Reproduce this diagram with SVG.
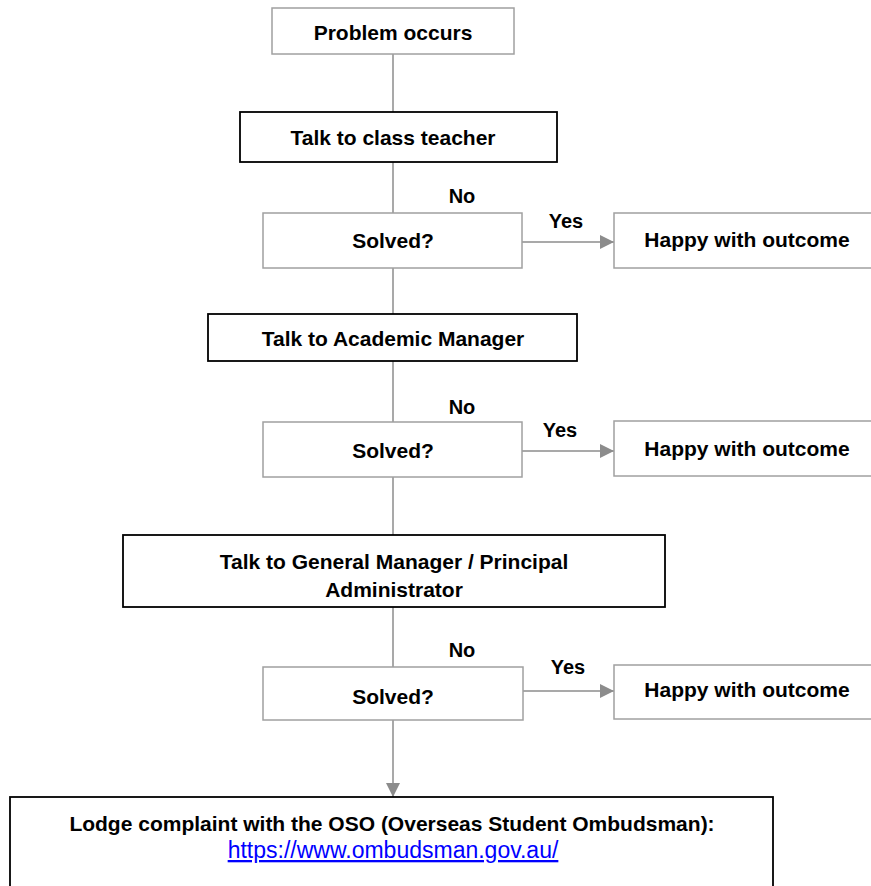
<svg xmlns="http://www.w3.org/2000/svg" width="871" height="886" viewBox="0 0 871 886">
<style>
.gray{fill:#fff;stroke:#a0a0a0;stroke-width:1.5}
.blk{fill:#fff;stroke:#000;stroke-width:1.8}
.t{font-family:"Liberation Sans",Arial,sans-serif;font-weight:bold;font-size:21px;fill:#000;text-anchor:middle}
.lbl{font-family:"Liberation Sans",Arial,sans-serif;font-weight:bold;font-size:20px;fill:#000;text-anchor:middle}
.link{font-family:"Liberation Sans",Arial,sans-serif;font-size:23px;fill:#0000ff;text-anchor:middle;text-decoration:underline}
.c{stroke:#8c8c8c;stroke-width:1.5;fill:none}
</style>
<defs>
<marker id="ah2" viewBox="0 0 10 10" refX="10" refY="5" markerWidth="14" markerHeight="14" markerUnits="userSpaceOnUse" orient="auto">
<path d="M0,0 L10,5 L0,10 z" fill="#8c8c8c"/>
</marker>
</defs>
<g id="connectors">
<line class="c" x1="393" y1="54" x2="393" y2="112"/>
<line class="c" x1="393" y1="162" x2="393" y2="213"/>
<line class="c" x1="522" y1="242" x2="614" y2="242" marker-end="url(#ah2)"/>
<line class="c" x1="393" y1="268" x2="393" y2="314"/>
<line class="c" x1="393" y1="361" x2="393" y2="422"/>
<line class="c" x1="522" y1="451" x2="614" y2="451" marker-end="url(#ah2)"/>
<line class="c" x1="393" y1="477" x2="393" y2="535"/>
<line class="c" x1="393" y1="607" x2="393" y2="667"/>
<line class="c" x1="523" y1="691" x2="614" y2="691" marker-end="url(#ah2)"/>
<line class="c" x1="393" y1="720" x2="393" y2="797" marker-end="url(#ah2)"/>
<text class="lbl" x="462" y="203">No</text>
<text class="lbl" x="566" y="228">Yes</text>
<text class="lbl" x="462" y="414">No</text>
<text class="lbl" x="560" y="437">Yes</text>
<text class="lbl" x="462" y="657">No</text>
<text class="lbl" x="568" y="674">Yes</text>
</g>
<g id="problem">
<rect class="gray" x="272" y="8" width="242" height="46"/>
<text class="t" x="393" y="40">Problem occurs</text>
</g>
<g id="teacher">
<rect class="blk" x="240" y="112" width="317" height="50"/>
<text class="t" x="393" y="145">Talk to class teacher</text>
</g>
<g id="solved1">
<rect class="gray" x="263" y="213" width="259" height="55"/>
<text class="t" x="393" y="248">Solved?</text>
</g>
<g id="happy1">
<rect class="gray" x="614" y="213" width="270" height="55"/>
<text class="t" x="747" y="247">Happy with outcome</text>
</g>
<g id="academic">
<rect class="blk" x="208" y="314" width="369" height="47"/>
<text class="t" x="393" y="346">Talk to Academic Manager</text>
</g>
<g id="solved2">
<rect class="gray" x="263" y="422" width="259" height="55"/>
<text class="t" x="393" y="458">Solved?</text>
</g>
<g id="happy2">
<rect class="gray" x="614" y="421" width="270" height="55"/>
<text class="t" x="747" y="456">Happy with outcome</text>
</g>
<g id="general">
<rect class="blk" x="123" y="535" width="542" height="72"/>
<text class="t" x="394" y="569">Talk to General Manager / Principal</text>
<text class="t" x="394" y="597">Administrator</text>
</g>
<g id="solved3">
<rect class="gray" x="263" y="667" width="260" height="53"/>
<text class="t" x="393" y="704">Solved?</text>
</g>
<g id="happy3">
<rect class="gray" x="614" y="665" width="270" height="54"/>
<text class="t" x="747" y="697">Happy with outcome</text>
</g>
<g id="lodge">
<rect class="blk" x="10" y="797" width="763" height="110"/>
<text class="t" x="392" y="831">Lodge complaint with the OSO (Overseas Student Ombudsman):</text>
<text class="link" x="393" y="858">https://www.ombudsman.gov.au/</text>
</g>
</svg>
